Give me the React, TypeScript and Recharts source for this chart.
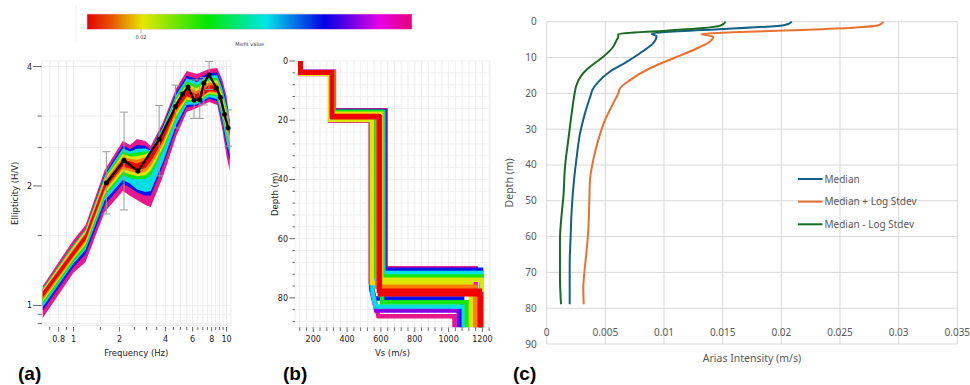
import React from 'react';
import {
  ComposedChart,
  LineChart,
  Line,
  Area,
  XAxis,
  YAxis,
  CartesianGrid,
  ErrorBar,
  Label,
} from 'recharts';

// misfit palette (red = best fit, pink = worst)
const MAG = '#e8188c';
const PUR = '#8c00e6';
const BLU = '#0a14f0';
const CYA = '#00dfe6';
const GRN = '#14e614';
const YEL = '#dce600';
const ORG = '#ff7f00';
const RED = '#f00000';

const GEO_FONT = '"DejaVu Sans", Verdana, sans-serif';
const XL_FONT = '"Noto Sans", "Open Sans", sans-serif';

// ---------- (a) ellipticity ----------
const bandFreq = [0.63, 1.0, 1.2, 1.6, 2.1, 2.35, 2.6, 2.95, 3.2, 3.85, 4.7, 5.5, 6.4, 7.7, 8.7, 9.4, 10.0, 10.5];
const magentaHi = [1.120, 1.462, 1.595, 2.194, 2.596, 2.537, 2.627, 2.596, 2.522, 2.899, 3.531, 3.897, 3.830, 3.942, 3.965, 3.699, 3.371, 2.933];
const magentaLo = [0.930, 1.208, 1.287, 1.720, 1.943, 1.887, 1.844, 1.791, 1.771, 2.119, 2.673, 3.072, 3.144, 3.256, 3.199, 2.768, 2.380, 2.182];
const blueHi = [1.101, 1.420, 1.554, 2.137, 2.528, 2.477, 2.535, 2.526, 2.464, 2.851, 3.450, 3.791, 3.720, 3.852, 3.863, 3.582, 3.260, 2.895];
const blueLo = [0.969, 1.250, 1.346, 1.790, 2.027, 1.980, 1.925, 1.890, 1.893, 2.255, 2.796, 3.159, 3.188, 3.319, 3.272, 2.876, 2.512, 2.323];
const cyanHi = [1.101, 1.420, 1.554, 2.121, 2.487, 2.442, 2.482, 2.484, 2.457, 2.823, 3.402, 3.729, 3.656, 3.799, 3.803, 3.515, 3.196, 2.872];
const cyanLo = [0.991, 1.275, 1.381, 1.839, 2.071, 2.027, 1.958, 1.931, 1.943, 2.301, 2.861, 3.203, 3.211, 3.350, 3.310, 2.931, 2.581, 2.397];
const greenHi = [1.101, 1.420, 1.554, 2.105, 2.448, 2.406, 2.429, 2.444, 2.450, 2.795, 3.355, 3.668, 3.593, 3.746, 3.744, 3.448, 3.132, 2.850];
const greenLo = [1.003, 1.287, 1.398, 1.876, 2.130, 2.093, 2.079, 2.082, 2.132, 2.448, 2.948, 3.263, 3.241, 3.393, 3.360, 3.007, 2.675, 2.499];
const yellowHi = [1.095, 1.408, 1.542, 2.082, 2.409, 2.372, 2.377, 2.404, 2.436, 2.768, 3.309, 3.608, 3.531, 3.694, 3.686, 3.383, 3.070, 2.828];
const yellowLo = [1.021, 1.307, 1.425, 1.909, 2.170, 2.137, 2.115, 2.127, 2.188, 2.499, 3.006, 3.303, 3.260, 3.422, 3.393, 3.057, 2.738, 2.568];
const orangeHi = [1.085, 1.388, 1.522, 2.058, 2.370, 2.338, 2.328, 2.364, 2.418, 2.740, 3.263, 3.548, 3.470, 3.643, 3.629, 3.319, 3.009, 2.805];
const orangeLo = [1.032, 1.320, 1.444, 1.940, 2.208, 2.179, 2.151, 2.173, 2.246, 2.551, 3.061, 3.340, 3.278, 3.448, 3.424, 3.104, 2.798, 2.633];
const redHi = [1.082, 1.380, 1.514, 2.035, 2.332, 2.305, 2.279, 2.326, 2.401, 2.712, 3.218, 3.490, 3.410, 3.593, 3.572, 3.256, 2.950, 2.784];
const redLo = [1.045, 1.333, 1.462, 1.966, 2.240, 2.214, 2.188, 2.220, 2.305, 2.604, 3.108, 3.371, 3.293, 3.470, 3.450, 3.144, 2.849, 2.688];

const measFreq = [1.64, 2.14, 2.64, 3.63, 4.64, 5.15, 5.61, 6.14, 6.69, 7.11, 7.7, 8.6, 9.14, 9.7, 10.25];
const measEll = [2.035, 2.32, 2.18, 2.62, 3.17, 3.41, 3.55, 3.29, 3.30, 3.63, 3.81, 3.53, 3.34, 3.03, 2.80];
const measLow = [1.70, 1.74, null, 2.12, 2.80, null, null, 2.96, 2.96, 3.20, 3.50, null, null, null, 2.52];
const measHigh = [2.44, 3.07, null, 3.19, 3.59, null, null, 3.70, 3.70, 3.75, 4.12, null, null, null, 3.11];

const ellXTicks = [0.7, 0.8, 0.9, 1, 1.5, 2, 2.5, 3, 3.5, 4, 4.5, 5, 5.5, 6, 6.5, 7, 7.5, 8, 8.5, 9, 9.5, 10];
const ellXLabels = [0.8, 1, 2, 4, 6, 8, 10];
const ellYTicks = [0.9, 0.95, 1, 1.5, 2, 2.5, 3, 4];
const ellYLabels = [1, 2, 4];

const bandLayers = [
  { key: 'magenta', color: MAG, lo: magentaLo, hi: magentaHi },
  { key: 'blue', color: BLU, lo: blueLo, hi: blueHi },
  { key: 'cyan', color: CYA, lo: cyanLo, hi: cyanHi },
  { key: 'green', color: GRN, lo: greenLo, hi: greenHi },
  { key: 'yellow', color: YEL, lo: yellowLo, hi: yellowHi },
  { key: 'orange', color: ORG, lo: orangeLo, hi: orangeHi },
  { key: 'red', color: RED, lo: redLo, hi: redHi },
];

const bandRows = bandFreq.map((f, i) => {
  const row: any = { f };
  bandLayers.forEach((b) => {
    row[b.key] = [b.lo[i], b.hi[i]];
  });
  return row;
});

const measRows = measFreq.map((f, i) => ({
  f,
  ell: measEll[i],
  err: measLow[i] == null ? null : [measEll[i] - (measLow[i] as number), (measHigh[i] as number) - measEll[i]],
}));

// ---------- (b) Vs profiles ----------
const profileColors = [MAG, MAG, PUR, BLU, BLU, CYA, CYA, GRN, GRN, YEL, YEL, ORG, RED, RED];
const profileVs = [
  [124, 124, 322, 322, 628, 628, 1160, 1160],
  [124, 124, 300, 300, 540, 540, 585, 1035, 1035],
  [124, 124, 304, 304, 542, 542, 572, 1060, 1060],
  [124, 124, 320, 320, 620, 620, 1192, 1192],
  [124, 124, 306, 306, 548, 548, 562, 1080, 1080],
  [124, 124, 318, 318, 614, 614, 1194, 1194],
  [124, 124, 309, 309, 550, 550, 568, 1090, 1090],
  [124, 124, 302, 302, 556, 556, 1194, 1194],
  [124, 124, 319, 319, 607, 607, 1108, 1108],
  [124, 124, 300, 300, 546, 546, 1132, 1132],
  [124, 124, 314, 314, 601, 601, 1197, 1197],
  [124, 124, 310, 310, 578, 578, 1158, 1158],
  [124, 124, 310, 310, 588, 588, 1185, 1185],
  [124, 124, 312, 312, 594, 594, 1192, 1192],
];
const profileDepth = [
  [0, 3.6, 3.6, 16.6, 16.6, 70.0, 70.0, 90],
  [0, 4.4, 4.4, 20.2, 20.2, 75, 86.2, 86.2, 90],
  [0, 4.1, 4.1, 19.7, 19.7, 77, 84.3, 84.3, 90],
  [0, 3.7, 3.7, 16.9, 16.9, 70.5, 70.5, 90],
  [0, 4.0, 4.0, 19.1, 19.1, 77, 80.2, 80.2, 90],
  [0, 3.8, 3.8, 17.3, 17.3, 71.6, 71.6, 90],
  [0, 4.0, 4.0, 18.6, 18.6, 78, 82.9, 82.9, 90],
  [0, 4.0, 4.0, 19.4, 19.4, 72.8, 72.8, 90],
  [0, 3.8, 3.8, 17.1, 17.1, 81.5, 81.5, 90],
  [0, 4.3, 4.3, 19.9, 19.9, 75.0, 75.0, 90],
  [0, 3.8, 3.8, 17.8, 17.8, 73.9, 73.9, 90],
  [0, 4.0, 4.0, 18.4, 18.4, 76.2, 76.2, 90],
  [0, 3.9, 3.9, 18.7, 18.7, 77.6, 77.6, 90],
  [0, 3.9, 3.9, 19.0, 19.0, 78.8, 78.8, 90],
];
const vsTicks = [120, 160, 200, 240, 280, 320, 360, 400, 440, 480, 520, 560, 600, 640, 680, 720, 760, 800, 840, 880, 920, 960, 1000, 1040, 1080, 1120, 1160, 1200, 1240];
const vsLabels = [200, 400, 600, 800, 1000, 1200];
const depthTicksB = [0, 4, 8, 12, 16, 20, 24, 28, 32, 36, 40, 44, 48, 52, 56, 60, 64, 68, 72, 76, 80, 84, 88];
const depthLabelsB = [0, 20, 40, 60, 80];

// ---------- (c) Arias intensity ----------
const seriesNames = ['Median', 'Median + Log Stdev', 'Median - Log Stdev'];
const seriesColors = ['#156082', '#e97132', '#196b24'];

const medianDepth = [0, 0.9, 3.44, 4.0, 6.0, 8.8, 11.2, 13.9, 16.8, 19.1, 20.5, 25.6, 31.2, 37.7, 44.2, 52.5, 60.0, 67.5, 73.1, 78.9];
const medianAi = [0.0209, 0.0203, 0.00895, 0.00937, 0.00908, 0.00795, 0.00682, 0.0054, 0.0044, 0.00389, 0.00375, 0.00326, 0.00284, 0.00256, 0.00233, 0.00213, 0.00204, 0.00196, 0.00196, 0.00196];
const plusDepth = [0, 1.0, 1.66, 2.3, 2.97, 3.44, 4.2, 5.6, 7.9, 10.2, 13.0, 16.3, 18.6, 20.0, 22.8, 27.5, 33.0, 38.6, 44.2, 50.2, 58.1, 65.6, 71.2, 74.0, 78.9];
const plusAi = [0.0287, 0.0283, 0.0261, 0.0216, 0.0159, 0.0132, 0.0142, 0.0139, 0.0125, 0.0108, 0.0088, 0.0071, 0.00625, 0.0061, 0.00567, 0.00497, 0.0044, 0.00397, 0.00369, 0.00363, 0.00355, 0.00335, 0.00318, 0.00312, 0.00315];
const minusDepth = [0, 1.1, 1.85, 2.5, 3.44, 4.2, 5.1, 7.0, 9.8, 12.6, 14.9, 18.1, 19.5, 25.6, 33.0, 40.5, 48.9, 53.6, 61.0, 71.2, 78.9];
const minusAi = [0.01525, 0.0148, 0.0131, 0.0102, 0.0061, 0.0061, 0.00596, 0.00567, 0.00482, 0.00369, 0.00298, 0.0025, 0.00241, 0.00213, 0.00184, 0.00156, 0.00142, 0.00128, 0.00113, 0.00113, 0.00122];

const aiTicks = [0, 0.005, 0.01, 0.015, 0.02, 0.025, 0.03, 0.035];
const depthTicksC = [0, 10, 20, 30, 40, 50, 60, 70, 80, 90];

const zip = (depths: number[], vals: number[]) => depths.map((d, i) => ({ depth: d, ai: vals[i] }));
const ariasSeries = [zip(medianDepth, medianAi), zip(plusDepth, plusAi), zip(minusDepth, minusAi)];

// misfit color bar
const cbStops = [0, 0.08, 0.17, 0.37, 0.55, 0.73, 0.9, 1];
const cbColors = ['#e60000', '#e65a00', '#e6e600', '#00e600', '#00e6e6', '#0000e6', '#e600e6', '#e6007a'];

// ---------- tick renderers ----------
const EllXTick = ({ x, y, payload }: any) => {
  const major = ellXLabels.includes(payload.value);
  return (
    <g>
      <line x1={x} x2={x} y1={y + 1.5} y2={y + (major ? 6 : 4.5)} stroke="#444" strokeWidth={0.8} />
      {major && (
        <text x={x} y={y + 16.5} textAnchor="middle" fontSize={8} fontFamily={GEO_FONT} fill="#222">
          {payload.value}
        </text>
      )}
    </g>
  );
};

const EllYTick = ({ x, y, payload }: any) => {
  const major = ellYLabels.includes(payload.value);
  return (
    <g>
      <line x1={x - (major ? 8.5 : 4)} x2={x} y1={y} y2={y} stroke="#444" strokeWidth={0.8} />
      {major && (
        <text x={x - 9.5} y={y + 3} textAnchor="end" fontSize={8} fontFamily={GEO_FONT} fill="#222">
          {payload.value}
        </text>
      )}
    </g>
  );
};

const VsTick = ({ x, y, payload }: any) => {
  const major = vsLabels.includes(payload.value);
  return (
    <g>
      <line x1={x} x2={x} y1={y} y2={y + (major ? 4.5 : 3.5)} stroke="#444" strokeWidth={0.8} />
      {major && (
        <text x={x} y={y + 14.5} textAnchor="middle" fontSize={8} fontFamily={GEO_FONT} fill="#222">
          {payload.value}
        </text>
      )}
    </g>
  );
};

const DepthTickB = ({ x, y, payload }: any) => {
  const major = depthLabelsB.includes(payload.value);
  return (
    <g>
      <line x1={x - (major ? 5.5 : 2.5)} x2={x} y1={y} y2={y} stroke="#444" strokeWidth={0.8} />
      {major && (
        <text x={x - 7} y={y + 3} textAnchor="end" fontSize={8} fontFamily={GEO_FONT} fill="#222">
          {payload.value}
        </text>
      )}
    </g>
  );
};

// Excel drew the Arias x labels just above the 90 m gridline
const AriasXTick = ({ x, y, payload }: any) => (
  <text x={x} y={y - 12} dy="0.35em" textAnchor="middle" fontSize={10} fontFamily={XL_FONT} fill="#595959">
    {payload.value}
  </text>
);

const geoTitle = { fontSize: 8.5, fontFamily: GEO_FONT, fill: '#222' };

const EllipticityChart = () => (
  <div style={{ position: 'absolute', left: 0, top: 45 }}>
    <ComposedChart width={245} height={330} data={bandRows} margin={{ top: 16, right: 14, bottom: 9.5, left: 12 }}>
      <CartesianGrid stroke="#ededed" />
      <XAxis
        type="number"
        dataKey="f"
        scale="log"
        domain={[0.62, 10.7]}
        allowDataOverflow
        ticks={ellXTicks}
        interval={0}
        tick={EllXTick}
        tickLine={false}
        axisLine={false}
        tickSize={0}
        tickMargin={0}
        height={40}
      >
        <Label value="Frequency (Hz)" position="insideTop" offset={24} {...geoTitle} />
      </XAxis>
      <YAxis
        type="number"
        scale="log"
        domain={[0.89, 4.13]}
        allowDataOverflow
        ticks={ellYTicks}
        interval={0}
        tick={EllYTick}
        tickLine={false}
        axisLine={false}
        tickSize={0}
        tickMargin={0}
        width={29.7}
      >
        <Label value="Ellipticity (H/V)" angle={-90} position="insideLeft" offset={3} {...geoTitle} style={{ textAnchor: 'middle' }} />
      </YAxis>
      {bandLayers.map((b) => (
        <Area
          key={b.key}
          type="linear"
          dataKey={b.key}
          stroke="none"
          fill={b.color}
          fillOpacity={1}
          dot={false}
          activeDot={false}
          isAnimationActive={false}
        />
      ))}
      <Line
        data={measRows}
        dataKey="ell"
        type="linear"
        stroke="#000"
        strokeWidth={2.2}
        dot={{ r: 2.3, fill: '#000', stroke: '#000', strokeWidth: 0.5 }}
        activeDot={false}
        isAnimationActive={false}
      >
        <ErrorBar dataKey="err" direction="y" width={4} stroke="#9a9a9a" strokeWidth={1} />
      </Line>
    </ComposedChart>
  </div>
);

const ProfileChart = () => (
  <div style={{ position: 'absolute', left: 250, top: 45 }}>
    <LineChart layout="vertical" width={245} height={330} margin={{ top: 16, right: 5, bottom: 9.5, left: 20 }}>
      <CartesianGrid stroke="#efefef" />
      <XAxis
        type="number"
        domain={[92, 1245]}
        allowDataOverflow
        ticks={vsTicks}
        interval={0}
        tick={VsTick}
        tickLine={false}
        axisLine={false}
        tickSize={0}
        tickMargin={0}
        height={38}
      >
        <Label value="Vs (m/s)" position="insideTop" offset={22} {...geoTitle} />
      </XAxis>
      <YAxis
        type="number"
        dataKey="depth"
        domain={[0, 90]}
        allowDataOverflow
        ticks={depthTicksB}
        interval={0}
        tick={DepthTickB}
        tickLine={false}
        axisLine={false}
        tickSize={0}
        tickMargin={0}
        width={25}
      >
        <Label value="Depth (m)" angle={-90} position="insideLeft" offset={5} {...geoTitle} style={{ textAnchor: 'middle' }} />
      </YAxis>
      {profileVs.map((vs, i) => (
        <Line
          key={i}
          data={vs.map((v, j) => ({ vs: v, depth: profileDepth[i][j] }))}
          dataKey="vs"
          type="linear"
          stroke={profileColors[i]}
          strokeWidth={4.5}
          dot={false}
          activeDot={false}
          isAnimationActive={false}
        />
      ))}
    </LineChart>
  </div>
);

const AriasChart = () => (
  <div style={{ position: 'absolute', left: 500, top: 0 }}>
    <LineChart layout="vertical" width={470} height={385} margin={{ top: 21.7, right: 12.7, bottom: 10, left: 4 }}>
      <CartesianGrid stroke="#d9d9d9" />
      <XAxis
        type="number"
        domain={[0, 0.035]}
        ticks={aiTicks}
        interval={0}
        tick={AriasXTick}
        tickLine={false}
        axisLine={false}
        tickSize={0}
        tickMargin={0}
        height={31}
      >
        <Label value="Arias Intensity (m/s)" position="insideTop" offset={11} fontSize={10.5} fontFamily={XL_FONT} fill="#595959" />
      </XAxis>
      <YAxis
        type="number"
        dataKey="depth"
        domain={[0, 90]}
        ticks={depthTicksC}
        interval={0}
        tick={{ fill: '#595959', fontSize: 10, fontFamily: XL_FONT }}
        tickLine={false}
        axisLine={false}
        tickSize={0}
        tickMargin={10}
        width={42.7}
      >
        <Label
          value="Depth (m)"
          angle={-90}
          position="insideLeft"
          offset={5.5}
          fontSize={10.5}
          fontFamily={XL_FONT}
          fill="#595959"
          style={{ textAnchor: 'middle' }}
        />
      </YAxis>
      {ariasSeries.map((rows, i) => (
        <Line
          key={seriesNames[i]}
          name={seriesNames[i]}
          data={rows}
          dataKey="ai"
          type="monotone"
          stroke={seriesColors[i]}
          strokeWidth={2}
          dot={false}
          activeDot={false}
          isAnimationActive={false}
        />
      ))}
    </LineChart>
  </div>
);

const Overlay = () => (
  <svg width={970} height={385} style={{ position: 'absolute', left: 0, top: 0, pointerEvents: 'none' }}>
    <defs>
      <linearGradient id="misfitGrad" x1="0" x2="1" y1="0" y2="0">
        {cbStops.map((s, i) => (
          <stop key={i} offset={s} stopColor={cbColors[i]} />
        ))}
      </linearGradient>
    </defs>
    <line x1={76} x2={76} y1={5} y2={42} stroke="#f0f0f0" />
    <rect x={87} y={14} width={325} height={15.3} fill="url(#misfitGrad)" stroke="#f4c6dc" strokeWidth={0.6} />
    <line x1={141} x2={141} y1={29.3} y2={33} stroke="#888" strokeWidth={0.6} />
    <text x={141} y={38.5} fontSize={5} textAnchor="middle" fontFamily={GEO_FONT} fill="#333">0.02</text>
    <text x={249.7} y={46} fontSize={5} textAnchor="middle" fontFamily={GEO_FONT} fill="#333">Misfit value</text>

    {seriesNames.map((n, i) => {
      const y = 179 + i * 22.65;
      return (
        <g key={n}>
          <line x1={798} x2={822.5} y1={y} y2={y} stroke={seriesColors[i]} strokeWidth={2} />
          <text x={824.5} y={y + 3.6} fontSize={10} fontFamily={XL_FONT} fill="#595959">{n}</text>
        </g>
      );
    })}

    <text x={18} y={380} fontSize={19} fontWeight="bold" fontFamily='"Liberation Sans", Arial, sans-serif'>(a)</text>
    <text x={283} y={380} fontSize={19} fontWeight="bold" fontFamily='"Liberation Sans", Arial, sans-serif'>(b)</text>
    <text x={513} y={380} fontSize={19} fontWeight="bold" fontFamily='"Liberation Sans", Arial, sans-serif'>(c)</text>
  </svg>
);

export default function App() {
  return (
    <div style={{ position: 'absolute', left: 0, top: 0, width: 970, height: 385, background: '#fff', overflow: 'hidden' }}>
      <EllipticityChart />
      <ProfileChart />
      <AriasChart />
      <Overlay />
    </div>
  );
}
